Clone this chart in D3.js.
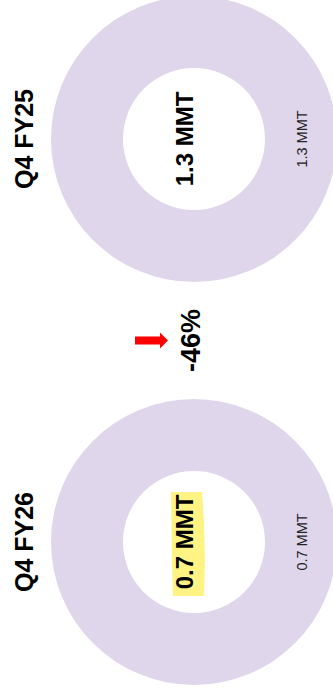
<!DOCTYPE html>
<html>
<head>
<meta charset="utf-8">
<script src="https://cdn.jsdelivr.net/npm/d3@7"></script>
<style>
  body { margin: 0; background: #fff; }
  svg { display: block; font-family: 'Liberation Sans', Arial, sans-serif; }
</style>
</head>
<body>
<div id="chart"></div>
<script>
const WIDTH = 333;
const HEIGHT = 698;

const periods = ['Q4 FY25', 'Q4 FY26'];
const volumes = [1.3, 0.7];
const unit = 'MMT';
const changeLabel = '-46%';
const highlighted = ['Q4 FY26'];

const RING_COLOUR = '#e0d6eb';
const HIGHLIGHT = '#fff383';

function translate(x, y) {
  return `translate(${x}, ${y})`;
}

const svg = d3.select('#chart').append('svg')
  .attr('width', WIDTH)
  .attr('height', HEIGHT);

// periods run down the page, the whole slide is turned on its side
const y = d3.scalePoint()
  .domain(periods)
  .range([139, 542]);

const outerR = 143;
const innerR = 71;
const cx = 194;

const pie = d3.pie().sort(null).value(d => d);
const arc = d3.arc().innerRadius(innerR).outerRadius(outerR);

periods.forEach((period, i) => {
  const g = svg.append('g')
    .attr('transform', translate(cx, y(period)));

  g.selectAll('path')
    .data(pie([volumes[i]]))
    .join('path')
    .attr('fill', RING_COLOUR)
    .attr('d', arc);

  const label = `${volumes[i].toFixed(1)} ${unit}`;

  if (highlighted.includes(period)) {
    // hand-drawn looking marker stroke
    g.append('path')
      .attr('fill', HIGHLIGHT)
      .attr('d', 'M-23,-50 L8,-50 L10,-20 L11,20 L10,54 L-21,54 L-22,20 Z');
  }

  // centre value
  g.append('text')
    .attr('transform', translate(-9.5, 0) + ' rotate(-90)')
    .attr('dy', '0.35em')
    .attr('text-anchor', 'middle')
    .attr('font-size', 24)
    .attr('font-weight', 'bold')
    .attr('fill', '#000')
    .text(label);

  // slice label on the ring
  g.append('text')
    .attr('transform', translate(outerR - 35, 0) + ' rotate(-90)')
    .attr('dy', '0.35em')
    .attr('text-anchor', 'middle')
    .attr('font-size', 14.5)
    .attr('fill', '#222')
    .text(label);

  // period title
  svg.append('text')
    .attr('transform', translate(24, y(period)) + ' rotate(-90)')
    .attr('dy', '0.35em')
    .attr('text-anchor', 'middle')
    .attr('font-size', 25)
    .attr('font-weight', 'bold')
    .attr('fill', '#000')
    .text(period);
});

// change between the two periods
const midY = (y(periods[0]) + y(periods[1])) / 2;

svg.append('text')
  .attr('transform', translate(190.5, midY) + ' rotate(-90)')
  .attr('dy', '0.35em')
  .attr('text-anchor', 'middle')
  .attr('font-size', 27)
  .attr('font-weight', 'bold')
  .attr('fill', '#000')
  .text(changeLabel);

svg.append('path')
  .attr('transform', translate(135, midY))
  .attr('fill', '#ff0000')
  .attr('d', 'M0,-4 L25,-4 L25,-8 L33,0 L25,8 L25,4 L0,4 Z');
</script>
</body>
</html>
